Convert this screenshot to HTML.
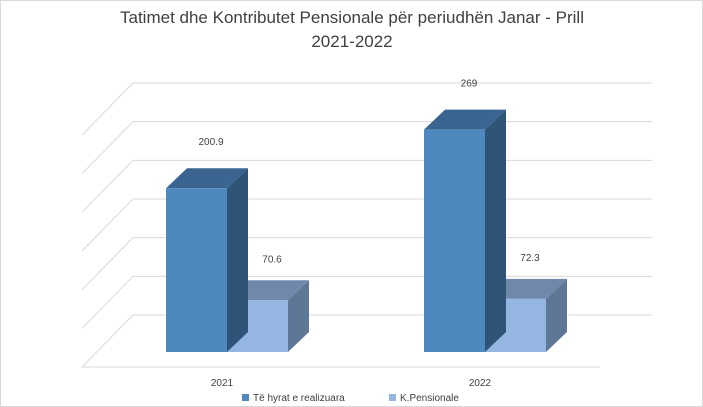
<!DOCTYPE html>
<html><head><meta charset="utf-8"><style>
body{margin:0;background:#fff;}
svg{display:block;font-family:"Liberation Sans",Arial,sans-serif;}
</style></head><body>
<svg id="chart" width="703" height="407" viewBox="0 0 703 407">
<rect x="0.5" y="0.5" width="702" height="406" fill="#fff" stroke="#d9d9d9"/>
<text x="352" y="23" text-anchor="middle" font-size="17" fill="#404040">Tatimet dhe Kontributet Pensionale për periudhën Janar - Prill</text>
<text x="352" y="47" text-anchor="middle" font-size="17" fill="#404040">2021-2022</text>
<g id="grid"></g><g id="bars"></g><g id="labels"></g>
<g>
<rect x="242" y="394" width="7" height="7" fill="#4f88be"/>
<text x="253" y="401" font-size="10" fill="#404040">Të hyrat e realizuara</text>
<rect x="389" y="394" width="7" height="7" fill="#95b6e0"/>
<text x="400" y="401" font-size="10" fill="#404040">K.Pensionale</text>
</g>
</svg>
<script>
const categories = ["2021", "2022"];
const seriesRealizuara = [200.9, 269];
const seriesPensionale = [70.6, 72.3];
const gridTicks = [0, 50, 100, 150, 200, 250, 300];

const NS = "http://www.w3.org/2000/svg";
function mk(tag, attrs, parent) {
  const e = document.createElementNS(NS, tag);
  for (const k in attrs) e.setAttribute(k, attrs[k]);
  parent.appendChild(e); return e;
}
const backLeft = 133, backRight = 652, backBase = 315, backTop = 83, maxV = 300;
const dxD = -51, dyD = 52;
function yBack(v) { return backBase - (backBase - backTop) * v / maxV; }
const frontBase = 352, bdx = 21, bdy = -20, barW = 61;
function barH(v) { return Math.max(0, 0.86 * v - 9); }
const catX = [166, 424];
const grid = document.getElementById('grid');
gridTicks.forEach((t) => {
  const y = yBack(t);
  const l = mk('line', {x1: backLeft, y1: y, x2: backRight, y2: y, stroke: '#d9d9d9', 'stroke-width': 1}, grid);
  
  
  const d = mk('line', {x1: backLeft, y1: y, x2: backLeft + dxD, y2: y + dyD, stroke: '#d9d9d9', 'stroke-width': 1}, grid);
  
  
});
const floor = mk('line', {x1: backLeft + dxD, y1: backBase + dyD, x2: 600, y2: backBase + dyD, stroke: '#d9d9d9'}, grid);



const bars = document.getElementById('bars');
const labels = document.getElementById('labels');
function bar3d(x, v, cols, name, lblOff) {
  const h = barH(v), top = frontBase - h;
  const g = mk('g', {}, bars);
  
  
  mk('polygon', {points: `${x},${top} ${x+bdx},${top+bdy} ${x+barW+bdx},${top+bdy} ${x+barW},${top}`, fill: cols[1]}, g);
  mk('polygon', {points: `${x+barW},${top} ${x+barW+bdx},${top+bdy} ${x+barW+bdx},${frontBase+bdy} ${x+barW},${frontBase}`, fill: cols[2]}, g);
  mk('rect', {x: x, y: top, width: barW, height: h, fill: cols[0]}, g);
  const t = mk('text', {x: x + barW/2 + bdx/2 + 4, y: top + bdy - lblOff, 'text-anchor': 'middle', 'font-size': 10, fill: '#404040'}, labels);
  
  
  t.textContent = String(v);
}
categories.forEach((c, i) => {
  bar3d(catX[i] + barW, seriesPensionale[i], ['#95b6e0', '#7089ab', '#5f7796'], 'bar-pensionale-' + c, 18);
  bar3d(catX[i], seriesRealizuara[i], ['#4f88be', '#3a6591', '#2e5477'], 'bar-realizuara-' + c, 23);
  const t = mk('text', {x: catX[i] + barW - 5, y: 386, 'text-anchor': 'middle', 'font-size': 10, fill: '#404040'}, labels);
  
  
  t.textContent = c;
});
</script>
</body></html>
